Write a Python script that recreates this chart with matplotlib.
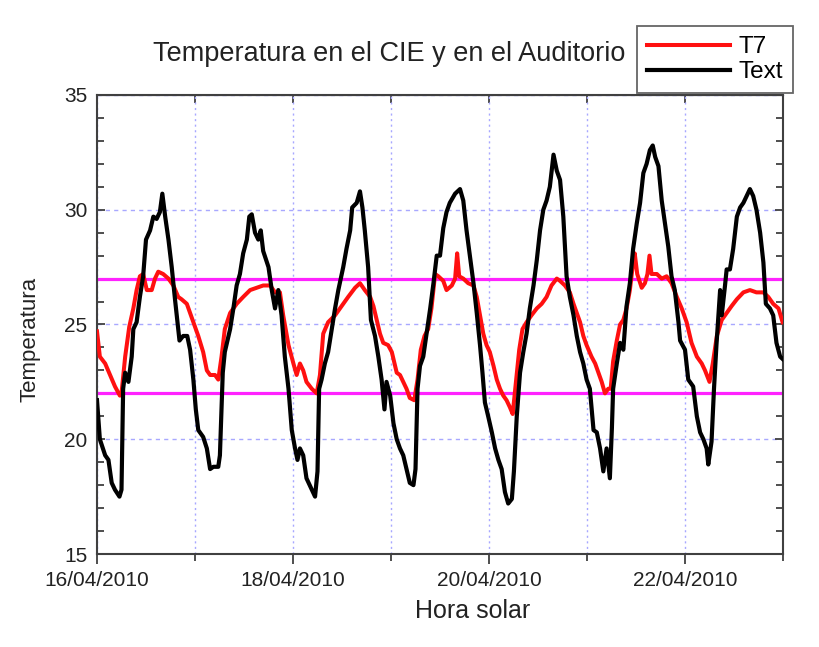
import matplotlib
matplotlib.use("Agg")
import matplotlib.pyplot as plt
import matplotlib.dates as mdates
from matplotlib.lines import Line2D
from matplotlib.ticker import MultipleLocator
import numpy as np

plt.rcParams['font.family'] = ['Liberation Sans', 'DejaVu Sans']

# hours since 16/04/2010 00:00 and temperatures
text_h = [0, 0.7, 2, 2.8, 3.6, 4.4, 5.5, 6, 6.4, 6.9, 7.7, 8.5, 8.9, 9.7, 10.5, 11.3,
          12, 13, 13.8, 14.6, 15.4, 16, 16.7, 17.5, 18.3, 19.1, 19.7, 20.2, 21.1, 22.1,
          22.8, 23.6, 24.2, 24.8, 26, 26.9, 27.7, 28.5, 29.7, 30.1, 30.8, 31.3, 32.6,
          33.4, 34.2, 35, 35.8, 36.7, 37.3, 37.9, 38.7, 39.5, 40.1, 40.7, 42, 42.8,
          43.6, 44.4, 45.2, 46, 46.9, 47.7, 48.5, 49.1, 49.7, 50.5, 51.3, 52.6, 53.4,
          54, 54.4, 55, 55.8, 56.6, 57.5, 58.3, 59.1, 60.3, 61.1, 62, 62.5, 63.6, 64.4,
          65, 65.6, 66.4, 67.1, 68.1, 68.9, 69.7, 70.4, 70.9, 71.8, 72.6, 73.4, 74.2,
          75, 75.8, 76.6, 77.5, 78, 78.5, 79.1, 79.9, 80.7, 81.6, 82.4, 83.2, 84, 84.8,
          85.6, 86.4, 87.7, 88.9, 89.7, 90.5, 91.3, 92.2, 93, 93.8, 94.4, 95, 95.8,
          96.7, 97.5, 98.3, 99.1, 99.9, 100.7, 101.6, 102.1, 102.8, 103.6, 104.4,
          105.2, 106, 106.9, 107.7, 108.5, 109.3, 110.1, 110.9, 111.8, 112.6, 113.4,
          114.2, 115, 115.8, 116.7, 117.5, 118.3, 119.1, 119.9, 120.7, 121.6, 122.4,
          123.2, 124, 124.8, 125.6, 126.1, 126.4, 127.3, 128.1, 128.9, 129.7, 130.5,
          131.3, 132.2, 133, 133.8, 134.6, 135.4, 136.1, 136.7, 137.5, 138.3, 139.1,
          139.9, 140.7, 141.5, 142.4, 142.8, 144, 144.8, 146, 146.9, 147.7, 148.5,
          149.3, 149.7, 150.5, 151.1, 151.7, 152.2, 152.6, 153, 153.8, 154.2, 155,
          155.8, 156.7, 157.5, 158.3, 159.1, 159.9, 160.7, 161.5, 162.4, 163.2, 163.8,
          164.8, 165.6, 166.4, 167.3, 167.9]
text_t = [21.7, 20.0, 19.3, 19.1, 18.1, 17.8, 17.5, 17.8, 22.2, 22.9, 22.5, 23.6, 24.8,
          25.1, 26.2, 27.1, 28.7, 29.1, 29.7, 29.6, 29.9, 30.7, 29.7, 28.7, 27.5, 26.1,
          25.1, 24.3, 24.5, 24.5, 23.9, 22.6, 21.3, 20.4, 20.1, 19.6, 18.7, 18.8, 18.8,
          19.3, 22.9, 23.8, 24.8, 25.7, 26.7, 27.2, 28.1, 28.7, 29.7, 29.8, 29.0, 28.7,
          29.1, 28.2, 27.5, 26.5, 25.7, 26.5, 25.4, 23.6, 22.2, 20.4, 19.6, 19.1, 19.6,
          19.3, 18.3, 17.8, 17.5, 18.6, 22.2, 22.6, 23.3, 23.8, 24.8, 25.7, 26.5, 27.5,
          28.3, 29.1, 30.1, 30.3, 30.8, 30.1, 29.1, 27.5, 25.2, 24.5, 23.6, 22.6, 21.3,
          22.5, 21.9, 20.7, 20.0, 19.6, 19.3, 18.7, 18.1, 18.0, 18.7, 22.2, 23.2, 23.6,
          24.6, 25.7, 26.8, 28.0, 28.0, 29.2, 29.9, 30.3, 30.7, 30.9, 30.4, 29.1, 28.0,
          26.8, 25.5, 24.1, 22.9, 21.6, 21.0, 20.3, 19.6, 19.1, 18.7, 17.7, 17.2, 17.4,
          18.6, 21.0, 22.9, 23.8, 24.6, 25.7, 26.7, 27.8, 29.1, 30.0, 30.4, 31.0, 32.4,
          31.7, 31.3, 29.7, 27.1, 26.2, 25.4, 24.5, 23.8, 23.3, 22.6, 22.2, 20.4, 20.3,
          19.6, 18.6, 19.6, 18.3, 20.5, 22.2, 23.3, 24.2, 23.9, 25.8, 26.8, 28.3, 29.4,
          30.3, 31.6, 32.0, 32.6, 32.8, 32.3, 31.9, 30.4, 29.4, 28.4, 27.1, 26.5, 25.1,
          24.3, 23.9, 22.6, 22.3, 21.0, 20.3, 20.0, 19.6, 18.9, 19.9, 22.2, 24.1, 25.4,
          26.5, 25.4, 26.7, 27.4, 27.4, 28.3, 29.7, 30.1, 30.3, 30.6, 30.9, 30.6, 30.0,
          29.0, 27.7, 25.9, 25.7, 25.4, 24.2, 23.6, 23.5]

t7_h = [0, 0.7, 2, 3.2, 4.4, 5.6, 6, 6.9, 7.9, 8.9, 9.7, 10.5, 11.3, 12.2, 13.4, 14.2,
        15, 16.2, 17.5, 18.7, 19.9, 20.7, 22, 22.8, 23.6, 24.8, 26, 26.9, 27.7, 28.9,
        29.7, 30.5, 31.3, 32.6, 34.2, 35.8, 37.5, 39.1, 40.7, 42.4, 43.6, 44.8, 45.6,
        46.9, 48.1, 48.9, 49.7, 50.5, 51.3, 52.6, 53.8, 54.6, 55.4, 56.6, 58.3, 59.9,
        61.5, 63.2, 64.4, 65.6, 66.9, 67.7, 68.5, 69.3, 70.1, 71.3, 72.2, 73.4, 74.2,
        75, 75.8, 76.6, 77.7, 78.5, 79.3, 80.2, 81.1, 81.9, 82.8, 83.6, 84.8, 85.6,
        86.9, 87.7, 88.2, 88.7, 89.7, 90.9, 92.2, 93, 93.8, 94.6, 95.4, 96.2, 97.1,
        97.9, 98.7, 99.5, 100.3, 101.1, 101.8, 102.6, 103.4, 104.2, 105.2, 106.4,
        107.7, 108.9, 110.1, 111.3, 112.6, 113.4, 114.6, 115.8, 116.7, 117.5, 118.3,
        119.1, 119.9, 121.1, 122, 122.8, 123.6, 124.4, 125.2, 125.8, 126.4, 127.3,
        128.1, 128.9, 129.7, 130.5, 131.3, 131.7, 132.3, 133.4, 134.2, 134.8, 135.3,
        135.8, 137.1, 138.3, 139.5, 140.7, 142, 143.2, 144.4, 145.6, 146.9, 148.1,
        148.9, 150, 150.8, 151.8, 153, 154.2, 155.4, 156.7, 158.3, 159.9, 161.5,
        163.2, 164.4, 165.6, 166.9, 167.9]
t7_t = [24.7, 23.6, 23.3, 22.8, 22.3, 21.9, 22.0, 23.6, 24.9, 25.7, 26.5, 27.1, 27.2,
        26.5, 26.5, 27.0, 27.3, 27.2, 27.0, 26.7, 26.2, 26.1, 25.9, 25.5, 25.1, 24.5,
        23.8, 23.0, 22.8, 22.8, 22.6, 23.6, 24.8, 25.5, 25.9, 26.2, 26.5, 26.6, 26.7,
        26.7, 26.4, 26.4, 25.4, 24.1, 23.3, 22.8, 23.3, 23.0, 22.5, 22.2, 22.0, 22.8,
        24.6, 25.1, 25.4, 25.8, 26.2, 26.6, 26.8, 26.5, 26.2, 25.8, 25.2, 24.6, 24.2,
        24.1, 23.8, 22.9, 22.8, 22.5, 22.2, 21.8, 21.7, 22.6, 23.9, 24.5, 24.8, 25.7,
        27.2, 27.1, 26.9, 26.5, 26.7, 27.0, 28.1, 27.1, 27.0, 26.8, 26.7, 26.2, 25.4,
        24.6, 24.1, 23.8, 23.2, 22.6, 22.2, 21.9, 21.7, 21.4, 21.1, 22.5, 23.9, 24.8,
        25.1, 25.4, 25.7, 25.9, 26.2, 26.7, 27.0, 26.9, 26.7, 26.4, 25.9, 25.5, 25.1,
        24.5, 24.1, 23.6, 23.3, 22.9, 22.5, 22.0, 22.2, 22.2, 23.4, 24.3, 25.0, 25.2,
        25.7, 26.5, 27.7, 28.1, 27.2, 26.6, 26.8, 27.2, 28.0, 27.2, 27.2, 27.0, 27.1,
        26.8, 26.2, 25.7, 25.1, 24.2, 23.6, 23.3, 23.0, 22.5, 23.3, 24.5, 25.2, 25.5,
        25.8, 26.1, 26.4, 26.5, 26.4, 26.4, 26.2, 25.9, 25.7, 25.1]

limits = [22, 27]

start = np.datetime64('2010-04-16T00:00')
end = np.datetime64('2010-04-23T00:00')
text_x = start + (np.array(text_h) * 60).astype('timedelta64[m]')
t7_x = start + (np.array(t7_h) * 60).astype('timedelta64[m]')

fig = plt.figure(figsize=(8.19, 6.47), dpi=100)
ax = fig.add_axes([97 / 819, 1 - 554 / 647, 686 / 819, 459 / 647])

for v in limits:
    ax.axhline(v, color='#ff22ff', lw=2.3, zorder=2)
ax.plot(t7_x, t7_t, color='#ff1010', lw=2.9, zorder=3)
ax.plot(text_x, text_t, color='black', lw=3.0, zorder=4)

ax.set_xlim(start, end)
ax.set_ylim(15, 35)
ax.xaxis.set_major_locator(mdates.DayLocator(bymonthday=[16, 18, 20, 22]))
ax.xaxis.set_minor_locator(mdates.DayLocator())
ax.xaxis.set_major_formatter(mdates.DateFormatter('%d/%m/%Y'))
ax.yaxis.set_major_locator(MultipleLocator(5))
ax.yaxis.set_minor_locator(MultipleLocator(1))

ax.xaxis.grid(True, which='both', color='#a8a8ff', ls=(0, (1.5, 2.5)), lw=1)
ax.yaxis.grid(True, which='major', color='#a8a8ff', ls=(0, (3, 3)), lw=1)
ax.set_axisbelow(True)

for s in ax.spines.values():
    s.set_color('#404040')
    s.set_linewidth(1.5)
ax.tick_params(axis='x', which='major', direction='out', length=7, width=1.3,
               colors='#404040', labelcolor='#222222', labelsize=15, pad=5, top=False)
ax.tick_params(axis='x', which='minor', direction='out', length=5, width=1.3,
               colors='#404040', top=False)
ax.tick_params(axis='y', which='major', direction='in', length=6, width=1.3,
               colors='#404040', labelcolor='#222222', labelsize=15, pad=7, right=True)
ax.tick_params(axis='y', which='minor', direction='in', length=5, width=1.3,
               colors='#404040', right=True)

sec = ax.secondary_xaxis('top')
sec.xaxis.set_major_locator(mdates.DayLocator())
sec.tick_params(direction='in', length=6, width=1.3, colors='#404040', labeltop=False)

ax.set_xlabel('Hora solar', fontsize=18, color='#222222')
ax.xaxis.set_label_coords(0.547, -0.098)
ax.set_ylabel('Temperatura', fontsize=16, color='#222222')
ax.yaxis.set_label_coords(-0.083, 0.468)
ax.set_title('Temperatura en el CIE y en el Auditorio', fontsize=19.5, color='#222222',
             x=(389 - 97) / 686, y=(554 - 61) / 459, pad=0)

handles = [Line2D([], [], color='#ff1010', lw=2.9), Line2D([], [], color='black', lw=3.0)]
leg = fig.legend(handles, ['T7', 'Text'], loc='upper left',
                 bbox_to_anchor=(637 / 819, 1 - 26 / 647), bbox_transform=fig.transFigure,
                 fontsize=17.5, frameon=True, fancybox=False, borderaxespad=0,
                 handlelength=3.4, handletextpad=0.35, labelspacing=0.12, borderpad=0.42)
leg.get_frame().set_edgecolor('#404040')
leg.get_frame().set_linewidth(1.3)

fig.savefig('out.png', dpi=100)
